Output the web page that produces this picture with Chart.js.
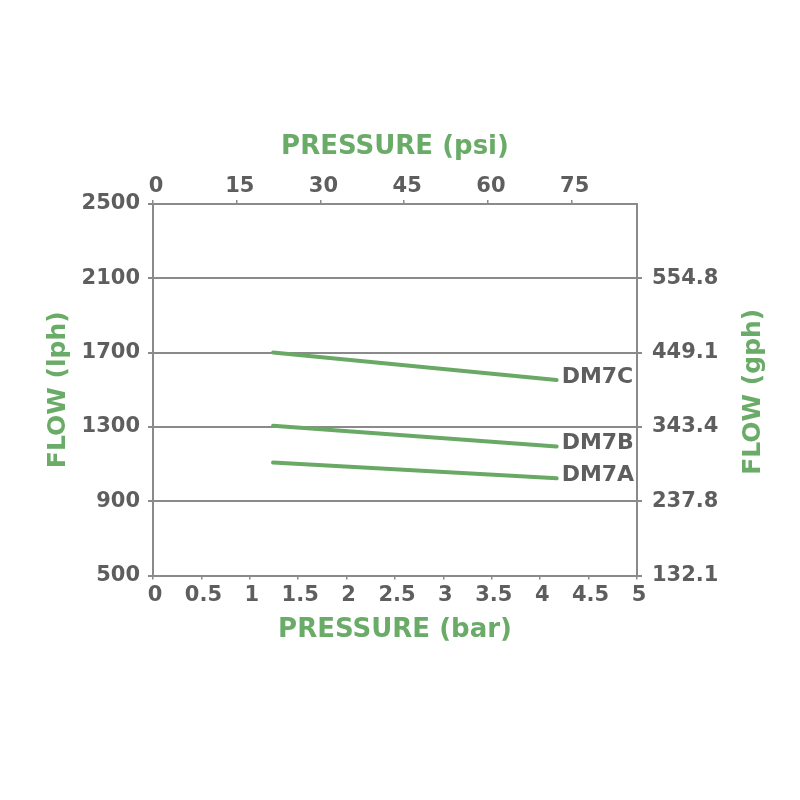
<!DOCTYPE html>
<html>
<head>
<meta charset="utf-8">
<script src="https://cdn.jsdelivr.net/npm/chart.js@4.4.1/dist/chart.umd.min.js"></script>
<style>
  html, body { margin: 0; padding: 0; background: #ffffff; }
  canvas { display: block; }
</style>
</head>
<body>
<canvas id="c" width="800" height="800"></canvas>
<script>
// ---- data ----
const seriesNames = ['DM7A', 'DM7B', 'DM7C'];
const pressureBar = [1.24, 4.17];          // x positions (bar) of line start / end
const dm7aFlow = [1108, 1023];             // lph
const dm7bFlow = [1306, 1195];             // lph
const dm7cFlow = [1700, 1552];             // lph
const barTicks = [0, 0.5, 1, 1.5, 2, 2.5, 3, 3.5, 4, 4.5, 5];
const psiTicks = [0, 15, 30, 45, 60, 75];
const lphTicks = [500, 900, 1300, 1700, 2100, 2500];
const gphLabels = ['132.1', '237.8', '343.4', '449.1', '554.8', ''];

// ---- styling ----
const GREEN = '#6aab68';
const LINE_GREEN = '#69a965';
const GREY = '#5e5e5e';
const AXIS_GREY = '#8a8a8a';
const FONT = 'DejaVu Sans';

function toPoints(xs, ys) { return xs.map((x, i) => ({ x: x, y: ys[i] })); }

const flows = [dm7aFlow, dm7bFlow, dm7cFlow];
const datasets = seriesNames.map((name, i) => ({
  label: name,
  data: toPoints(pressureBar, flows[i]),
  borderColor: LINE_GREEN,
  borderWidth: 4,
  pointRadius: 0,
  tension: 0,
  borderCapStyle: 'round',
  xAxisID: 'x',
  yAxisID: 'y'
}));

const endLabels = {
  id: 'endLabels',
  afterDatasetsDraw(chart) {
    const ctx = chart.ctx;
    ctx.save();
    ctx.font = 'bold 22px "' + FONT + '"';
    ctx.fillStyle = GREY;
    ctx.textAlign = 'left';
    ctx.textBaseline = 'middle';
    chart.data.datasets.forEach((ds, i) => {
      const meta = chart.getDatasetMeta(i);
      const pt = meta.data[meta.data.length - 1];
      ctx.fillText(ds.label, pt.x + 5, pt.y - 3);
    });
    ctx.restore();
  }
};

const rightTitle = {
  id: 'rightTitle',
  afterDraw(chart) {
    const ctx = chart.ctx;
    const a = chart.chartArea;
    ctx.save();
    ctx.translate(753, (a.top + a.bottom) / 2 + 2);
    ctx.rotate(-Math.PI / 2);
    ctx.font = 'bold 25px "' + FONT + '"';
    ctx.fillStyle = GREEN;
    ctx.textAlign = 'center';
    ctx.textBaseline = 'middle';
    ctx.fillText('FLOW (gph)', 0, 0);
    ctx.restore();
  }
};

const tickFont = { family: FONT, size: 21, weight: 'bold' };

new Chart(document.getElementById('c'), {
  type: 'line',
  data: { datasets: datasets },
  plugins: [endLabels, rightTitle],
  options: {
    responsive: false,
    devicePixelRatio: 1,
    animation: false,
    layout: { padding: 0 },
    plugins: { legend: { display: false }, tooltip: { enabled: false } },
    scales: {
      x: {
        type: 'linear', position: 'bottom', min: 0, max: 5,
        afterBuildTicks: s => { s.ticks = barTicks.map(v => ({ value: v })); },
        afterFit: s => { s.height = 224.5; },
        grid: { drawOnChartArea: false, color: AXIS_GREY, lineWidth: 1.5, tickLength: 4 },
        border: { display: true, color: AXIS_GREY, width: 2 },
        ticks: { font: tickFont, color: GREY, padding: 3, labelOffset: 2, maxRotation: 0, autoSkip: false,
                 callback: v => String(v) },
        title: { display: true, text: 'PRESSURE (bar)', color: GREEN,
                 font: { family: FONT, size: 26, weight: 'bold' }, padding: { top: 0, bottom: 154 } }
      },
      x2: {
        type: 'linear', position: 'top', min: 0, max: 86.7,
        afterBuildTicks: s => { s.ticks = psiTicks.map(v => ({ value: v })); },
        afterFit: s => { s.height = 204; },
        grid: { drawOnChartArea: false, color: AXIS_GREY, lineWidth: 1.5, tickLength: 4 },
        border: { display: true, color: AXIS_GREY, width: 2 },
        ticks: { font: tickFont, color: GREY, padding: 1, labelOffset: 3, maxRotation: 0, autoSkip: false,
                 callback: v => String(v) },
        title: { display: true, text: 'PRESSURE (psi)', color: GREEN,
                 font: { family: FONT, size: 26, weight: 'bold' }, padding: { top: 132, bottom: 0 } }
      },
      y: {
        type: 'linear', position: 'left', min: 500, max: 2500,
        afterBuildTicks: s => { s.ticks = lphTicks.map(v => ({ value: v })); },
        afterFit: s => { s.width = 153; },
        grid: { drawOnChartArea: true, color: AXIS_GREY, lineWidth: 2, tickLength: 5 },
        border: { display: true, color: AXIS_GREY, width: 2 },
        ticks: { font: tickFont, color: GREY, padding: 8, autoSkip: false,
                 callback: v => String(v) },
        title: { display: true, text: 'FLOW (lph)', color: GREEN,
                 font: { family: FONT, size: 25, weight: 'bold' }, padding: { top: 43, bottom: 0 } }
      },
      y2: {
        type: 'linear', position: 'right', min: 500, max: 2500,
        afterBuildTicks: s => { s.ticks = lphTicks.map(v => ({ value: v })); },
        afterFit: s => { s.width = 163; },
        grid: { drawOnChartArea: false, lineWidth: 2, tickLength: 5,
                color: c => (c.tick && c.tick.value === 2500) ? 'rgba(0,0,0,0)' : AXIS_GREY },
        border: { display: true, color: AXIS_GREY, width: 2 },
        ticks: { font: tickFont, color: GREY, padding: 10, autoSkip: false,
                 callback: (v, i) => gphLabels[i] },
        title: { display: false }
      }
    }
  }
});
</script>
</body>
</html>
